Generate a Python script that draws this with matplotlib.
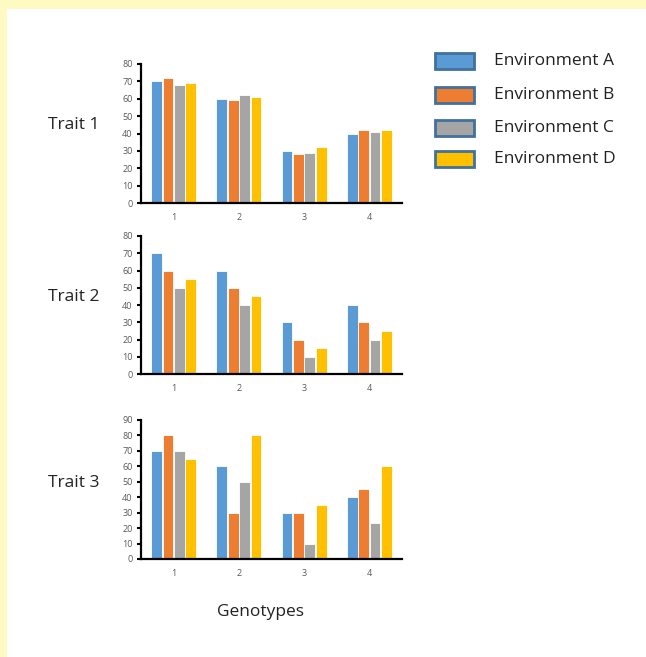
import matplotlib.pyplot as plt
from matplotlib.patches import Rectangle
import numpy as np

plt.rcParams['font.family'] = ['Open Sans', 'DejaVu Sans']

genotypes = ['1', '2', '3', '4']
environments = ['Environment A', 'Environment B', 'Environment C', 'Environment D']
colors = ['#5B9BD5', '#ED7D31', '#A5A5A5', '#FFC000']

trait1 = [[70, 60, 30, 40], [72, 59, 28, 42], [68, 62, 29, 41], [69, 61, 32, 42]]
trait2 = [[70, 60, 30, 40], [60, 50, 20, 30], [50, 40, 10, 20], [55, 45, 15, 25]]
trait3 = [[70, 60, 30, 40], [80, 30, 30, 45], [70, 50, 10, 23], [65, 80, 35, 60]]
traits = ['Trait 1', 'Trait 2', 'Trait 3']
ymaxes = [80, 80, 90]

fig = plt.figure(figsize=(6.46, 6.57), dpi=100)
fig.patch.set_facecolor('white')
# yellow frame on top and left
fig.add_artist(Rectangle((0, 1 - 9 / 657), 1, 9 / 657, transform=fig.transFigure,
                         facecolor='#FFF9C2', edgecolor='none', zorder=0))
fig.add_artist(Rectangle((0, 0), 7 / 646, 1, transform=fig.transFigure,
                         facecolor='#FFF9C2', edgecolor='none', zorder=0))

positions = [[0.2183, 0.691, 0.404, 0.2116],
             [0.2183, 0.4307, 0.404, 0.2101],
             [0.2183, 0.1492, 0.404, 0.2116]]
label_y = [125, 297, 483]

x = np.arange(len(genotypes))
w = 0.165
for data, pos, name, ymax, ly in zip([trait1, trait2, trait3], positions, traits, ymaxes, label_y):
    ax = fig.add_axes(pos)
    for i, vals in enumerate(data):
        ax.bar(x + (i - 1.5) * 0.175, vals, w, color=colors[i], edgecolor='white', linewidth=0.6)
    ax.set_xlim(-0.5, 3.5)
    ax.set_ylim(0, ymax)
    ax.set_yticks(np.arange(0, ymax + 1, 10))
    ax.set_xticks(x)
    ax.set_xticklabels(genotypes)
    for s in ['top', 'right']:
        ax.spines[s].set_visible(False)
    for s in ['left', 'bottom']:
        ax.spines[s].set_linewidth(1.6)
        ax.spines[s].set_color('black')
    ax.tick_params(axis='y', length=3, width=1.5, labelsize=6.5, labelcolor='#595959', pad=3)
    ax.tick_params(axis='x', length=0, labelsize=6.5, labelcolor='#595959', pad=7)
    fig.text(74 / 646, 1 - ly / 657, name, ha='center', va='center', fontsize=12.5, color='#222222')

fig.text(261 / 646, 1 - 612 / 657, 'Genotypes', ha='center', va='center', fontsize=12.5, color='#222222')

# legend
ly0 = [61, 95, 128, 159]
for env, c, yy in zip(environments, colors, ly0):
    fig.add_artist(Rectangle((435 / 646, 1 - (yy + 8) / 657), 39 / 646, 16 / 657,
                             transform=fig.transFigure, facecolor=c,
                             edgecolor='#41719C', linewidth=2))
    fig.text(494 / 646, 1 - yy / 657, env, ha='left', va='center', fontsize=12.5, color='#222222')

fig.savefig('out.png', dpi=100)
